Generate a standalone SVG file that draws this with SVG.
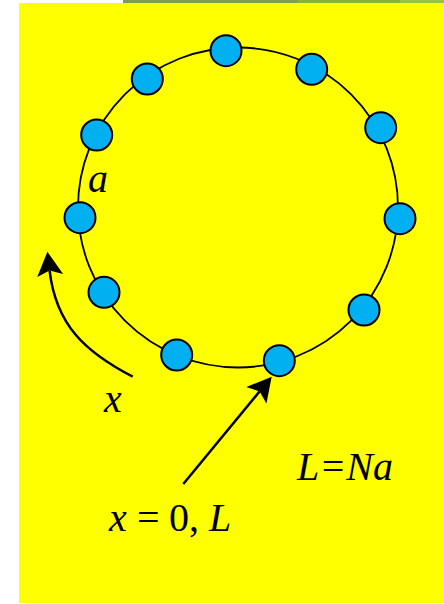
<svg xmlns="http://www.w3.org/2000/svg" width="444" height="604" viewBox="0 0 444 604">
<style>
.node{fill:#00B0F0;stroke:#000;stroke-width:2}
.ring{fill:none;stroke:#000;stroke-width:1.8}
.conn{fill:none;stroke:#000;stroke-width:2.5}
.t{font-family:"Liberation Serif","Times New Roman",serif;font-size:40px;fill:#000}
.i{font-style:italic}
</style>
<defs>
<marker id="ah" viewBox="-6 -14 26 28" refX="0" refY="0" markerWidth="26" markerHeight="28" markerUnits="userSpaceOnUse" orient="auto">
<path d="M-5,-13 L19,0 L-5,13 L0,0 Z" fill="#000"/>
</marker>
</defs>
<rect x="0" y="0" width="444" height="604" fill="#fff"/>
<rect x="123" y="0" width="175" height="3" fill="#77A04F"/>
<rect x="298" y="0" width="102" height="3" fill="#82B530"/>
<rect x="400" y="0" width="44" height="3" fill="#93C83C"/>
<rect x="19" y="3" width="425" height="600" fill="#FFFF00"/>
<circle class="ring" cx="238" cy="207.5" r="160"/>
<g id="connectors">
<path class="conn" d="M132.7,376.7 C85,352 56,325 49.6,270.6" marker-end="url(#ah)"/>
<path class="conn" d="M183.3,484 L259.6,391.4" marker-end="url(#ah)"/>
</g>
<g id="n1"><circle class="node" cx="226" cy="50.7" r="15.5"/></g>
<g id="n2"><circle class="node" cx="311.7" cy="69.3" r="15.5"/></g>
<g id="n3"><circle class="node" cx="380.7" cy="127.7" r="15.5"/></g>
<g id="n4"><circle class="node" cx="400" cy="218.7" r="15.5"/></g>
<g id="n5"><circle class="node" cx="364" cy="310" r="15.5"/></g>
<g id="n6"><circle class="node" cx="279.3" cy="360.7" r="15.5"/></g>
<g id="n7"><circle class="node" cx="176.7" cy="355" r="15.5"/></g>
<g id="n8"><circle class="node" cx="104" cy="292.3" r="15.5"/></g>
<g id="n9"><circle class="node" cx="80" cy="217.7" r="15.5"/></g>
<g id="n10"><circle class="node" cx="96.7" cy="135" r="15.5"/></g>
<g id="n11"><circle class="node" cx="147.3" cy="79" r="15.5"/></g>
<g id="labels">
<text class="t i" x="88" y="192">a</text>
<text class="t i" x="104" y="412">x</text>
<text class="t"><tspan class="i" x="109" y="531">x</tspan><tspan x="137" y="531">=</tspan><tspan x="169" y="531">0,</tspan><tspan class="i" x="209" y="531">L</tspan></text>
<text class="t i" x="297" y="480">L=Na</text>
</g>
</svg>
